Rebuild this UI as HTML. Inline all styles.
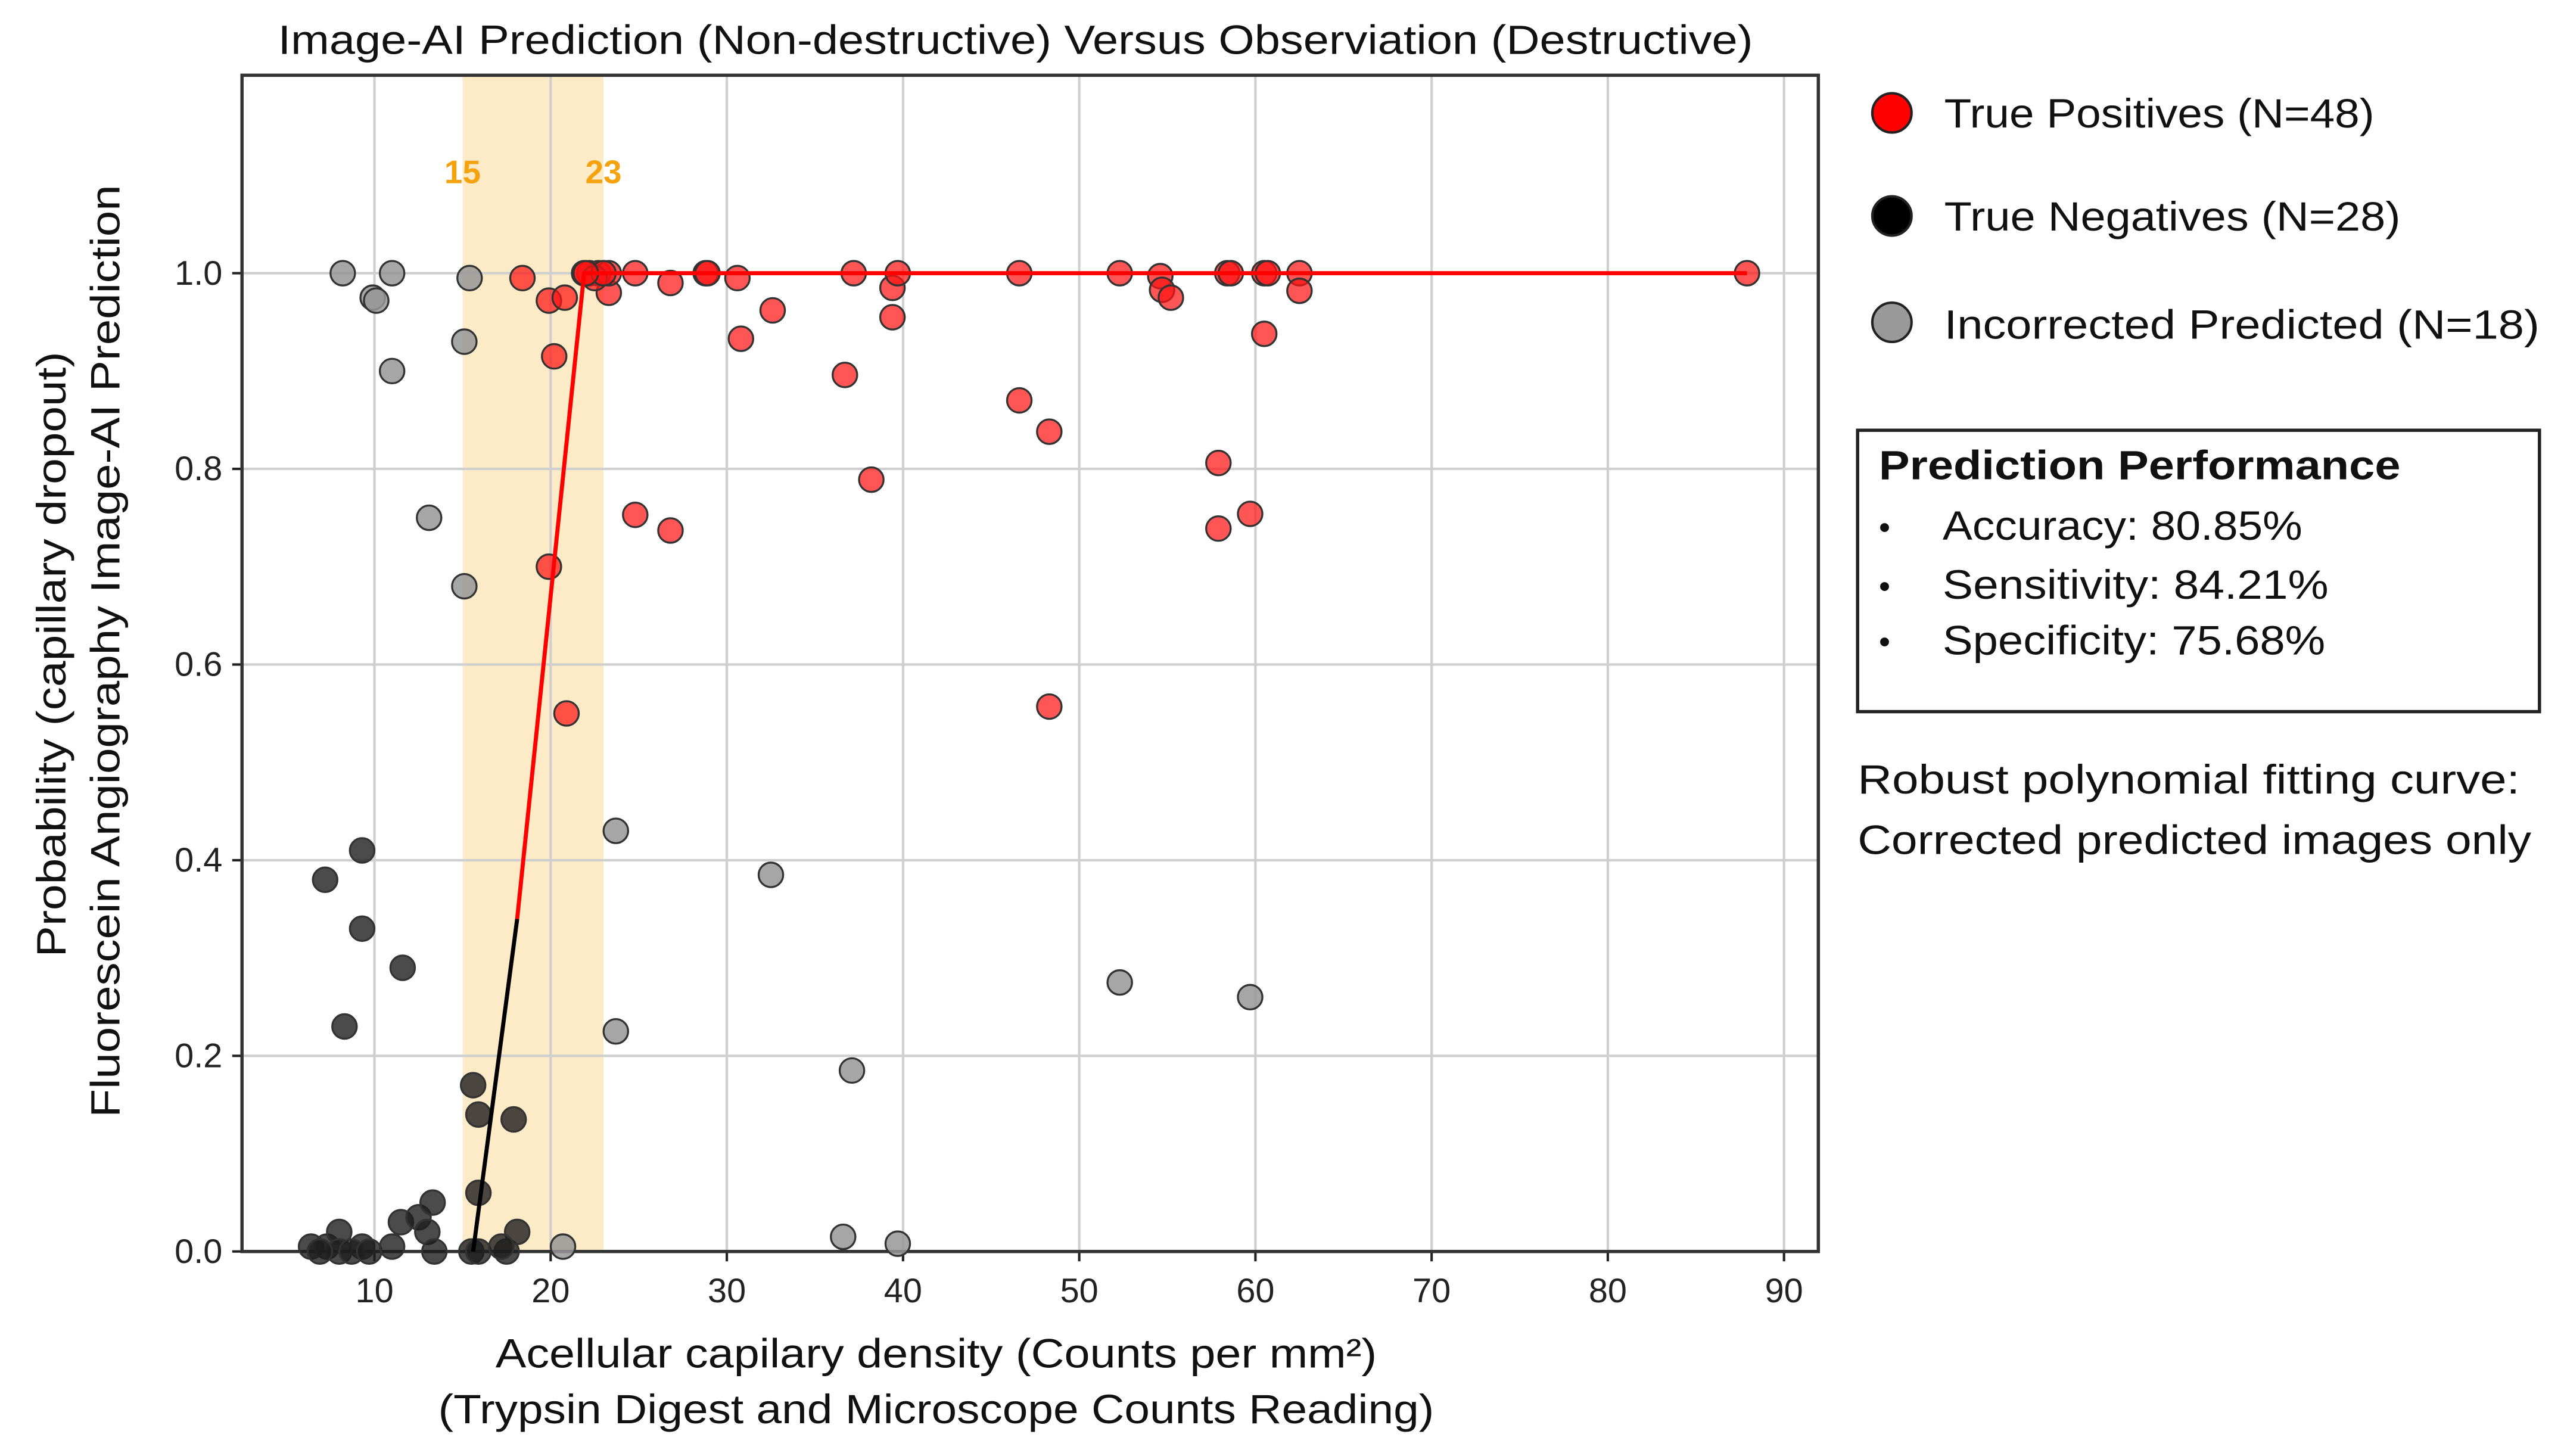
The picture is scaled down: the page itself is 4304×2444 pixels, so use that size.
<!DOCTYPE html>
<html><head><meta charset="utf-8"><style>
html,body{margin:0;padding:0;background:#fff}
svg{display:block;font-family:"Liberation Sans",sans-serif}
</style></head><body>
<svg id="chart" width="4304" height="2444" viewBox="0 0 1568 890" preserveAspectRatio="none" xmlns="http://www.w3.org/2000/svg">
<rect x="0" y="0" width="1568" height="890" fill="#fff"/>
<g id="plot"></g>
<text x="170" y="33" font-size="25" textLength="902" lengthAdjust="spacingAndGlyphs" fill="#111">Image-AI Prediction (Non-destructive) Versus Observiation (Destructive)</text>
<text x="303" y="836" font-size="25" textLength="539" lengthAdjust="spacingAndGlyphs" fill="#111">Acellular capilary density (Counts per mm²)</text>
<text x="268" y="870" font-size="25" textLength="609" lengthAdjust="spacingAndGlyphs" fill="#111">(Trypsin Digest and Microscope Counts Reading)</text>
<text transform="translate(40,585) rotate(-90)" font-size="25" textLength="370" lengthAdjust="spacingAndGlyphs" fill="#111">Probability (capillary dropout)</text>
<text transform="translate(73,683) rotate(-90)" font-size="25" textLength="570" lengthAdjust="spacingAndGlyphs" fill="#111">Fluorescein Angiography Image-AI Prediction</text>
<g font-size="25" fill="#111">
<circle cx="1157" cy="69" r="12" fill="#ff0000" stroke="#222" stroke-width="1.5"/>
<text x="1189" y="78" textLength="263" lengthAdjust="spacingAndGlyphs">True Positives (N=48)</text>
<circle cx="1157" cy="132" r="12" fill="#000" stroke="#222" stroke-width="1.5"/>
<text x="1189" y="141" textLength="279" lengthAdjust="spacingAndGlyphs">True Negatives (N=28)</text>
<circle cx="1157" cy="197" r="12" fill="#999" stroke="#222" stroke-width="1.5"/>
<text x="1189" y="207" textLength="364" lengthAdjust="spacingAndGlyphs">Incorrected Predicted (N=18)</text>
</g>
<g fill="#111">
<rect x="1136" y="263" width="417" height="172" fill="none" stroke="#222" stroke-width="2"/>
<text x="1149" y="293" font-size="25" font-weight="bold" textLength="319" lengthAdjust="spacingAndGlyphs">Prediction Performance</text>
<text x="1149" y="329" font-size="20">•</text><text x="1188" y="330" font-size="25" textLength="220" lengthAdjust="spacingAndGlyphs">Accuracy: 80.85%</text>
<text x="1149" y="365" font-size="20">•</text><text x="1188" y="366" font-size="25" textLength="236" lengthAdjust="spacingAndGlyphs">Sensitivity: 84.21%</text>
<text x="1149" y="399" font-size="20">•</text><text x="1188" y="400" font-size="25" textLength="234" lengthAdjust="spacingAndGlyphs">Specificity: 75.68%</text>
</g>
<text x="1136" y="485" font-size="25" textLength="405" lengthAdjust="spacingAndGlyphs" fill="#111">Robust polynomial fitting curve:</text>
<text x="1136" y="522" font-size="25" textLength="412" lengthAdjust="spacingAndGlyphs" fill="#111">Corrected predicted images only</text>
</svg>
<script>
const xTicks=[10,20,30,40,50,60,70,80,90];
const yTicks=[0.0,0.2,0.4,0.6,0.8,1.0];
const yTickLabels=["0.0","0.2","0.4","0.6","0.8","1.0"];
const bandRange=[15,23];
const tnX=[7.2,9.3,9.3,8.3,11.6,15.6,15.9,17.9,15.9,6.4,7.3,8,9.3,11.5,12.5,13.3,13,13.4,15.5,17.5,18.1,8,6.9,8.7,9.7,15.9,17.2,11];
const tnY=[0.38,0.41,0.33,0.23,0.29,0.17,0.14,0.135,0.06,0.005,0.005,0.02,0.005,0.03,0.035,0.05,0.02,0,0,0,0.02,0,0,0,0,0,0.005,0.005];
const icX=[8.2,9.9,11,11,15.4,15.1,13.1,15.1,23.7,23.7,32.5,37.1,36.6,39.7,52.3,59.7,20.7,10.1];
const icY=[1.0,0.975,1.0,0.9,0.995,0.93,0.75,0.68,0.43,0.225,0.385,0.185,0.015,0.008,0.275,0.26,0.005,0.972];
const tpX=[18.4,19.9,20.8,20.2,19.9,20.9,22.2,22.7,23.3,23.3,24.8,26.8,28.8,28.9,30.6,30.8,32.6,24.8,26.8,36.7,37.2,38.2,39.4,39.7,39.4,46.6,46.6,48.3,48.3,52.3,54.6,54.7,55.2,58.4,58.6,57.9,57.9,59.7,60.5,60.7,60.5,62.5,62.5,87.9,21.9,22.5,23.0,22.0];
const tpY=[0.995,0.972,0.975,0.915,0.70,0.55,1.0,1.0,0.98,1.0,1.0,0.99,1.0,1.0,0.995,0.933,0.962,0.753,0.737,0.896,1.0,0.789,0.985,1.0,0.955,1.0,0.87,0.838,0.557,1.0,0.997,0.983,0.975,1.0,1.0,0.806,0.739,0.754,1.0,1.0,0.938,1.0,0.982,1.0,1.0,0.995,1.0,1.0];
const fitBlackX=[15.6,18.1];
const fitBlackY=[0,0.34];
const fitRedX=[18.1,21.9,87.9];
const fitRedY=[0.34,1.0,1.0];

const NS="http://www.w3.org/2000/svg";
const L=148,R=1112,T=46,B=765;
const sx=v=>229+(v-10)*10.775;
const sy=v=>765-v*598;
const g=document.getElementById('plot');
function mk(tag,attrs,parent){const e=document.createElementNS(NS,tag);for(const k in attrs)e.setAttribute(k,attrs[k]);(parent||g).appendChild(e);return e;}

const band=mk('rect',{x:sx(bandRange[0]),y:T,width:sx(bandRange[1])-sx(bandRange[0]),height:B-T,fill:'#fdebc8'});


xTicks.forEach(t=>{
  const gl=mk('line',{x1:sx(t),x2:sx(t),y1:T,y2:B,stroke:'#cfcfcf','stroke-width':1.5});
  
  
  mk('line',{x1:sx(t),x2:sx(t),y1:B,y2:B+6,stroke:'#222','stroke-width':1.5});
  const tx=mk('text',{x:sx(t),y:B+31,'font-size':21,'text-anchor':'middle',fill:'#222'});
  tx.textContent=t;
  
  
});
yTicks.forEach((t,i)=>{
  const gl=mk('line',{x1:L,x2:R,y1:sy(t),y2:sy(t),stroke:'#cfcfcf','stroke-width':1.5});
  
  
  mk('line',{x1:L-6,x2:L,y1:sy(t),y2:sy(t),stroke:'#222','stroke-width':1.5});
  const tx=mk('text',{x:L-12,y:sy(t)+7,'font-size':21,'text-anchor':'end',fill:'#222'});
  tx.textContent=yTickLabels[i];
  
  
});
[[bandRange[0],'15'],[bandRange[1],'23']].forEach(([v,s])=>{
  const tx=mk('text',{x:sx(v),y:112,'font-size':20,'font-weight':'bold','text-anchor':'middle',fill:'#f5a20f'});
  tx.textContent=s;
  
  
});
const axis=mk('rect',{x:L,y:T,width:R-L,height:B-T,fill:'none',stroke:'#333','stroke-width':2});



function pts(xs,ys,fill,name){
  xs.forEach((x,i)=>{
    const c=mk('circle',{cx:sx(x),cy:sy(ys[i]),r:7.5,fill:fill,stroke:'#333','stroke-width':1.2});
    
    
  });
}
pts(tnX,tnY,'rgba(30,30,30,0.8)','true-negative-point');
pts(icX,icY,'rgba(150,150,150,0.85)','incorrect-point');
pts(tpX,tpY,'rgba(255,20,20,0.72)','true-positive-point');

const bl=mk('polyline',{points:fitBlackX.map((x,i)=>sx(x)+','+sy(fitBlackY[i])).join(' '),fill:'none',stroke:'#000','stroke-width':2.5});


const rl=mk('polyline',{points:fitRedX.map((x,i)=>sx(x)+','+sy(fitRedY[i])).join(' '),fill:'none',stroke:'#ff0000','stroke-width':2.5});


</script>
</body></html>
